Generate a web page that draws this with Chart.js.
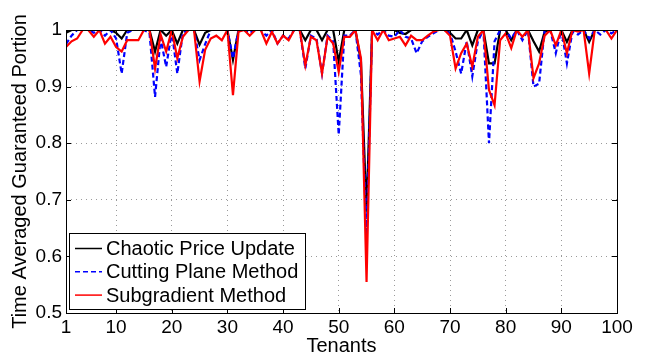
<!DOCTYPE html>
<html>
<head>
<meta charset="utf-8">
<script src="https://cdn.jsdelivr.net/npm/chart.js@4.4.0/dist/chart.umd.min.js"></script>
<style>
    html, body { margin: 0; padding: 0; background: #fff; }
    #wrap { width: 646px; height: 358px; }
</style>
</head>
<body>
<div id="wrap"><canvas id="chart" width="646" height="358"></canvas></div>
<script>
// 数据
const chaotic = [
    0.995, 1, 1, 1, 1, 1, 1, 1, 1, 0.995,
    0.985, 1, 1, 1, 1, 1, 0.962, 1, 0.99, 1,
    0.976, 1, 1, 1, 0.974, 0.995, 1, 1, 1, 1,
    0.947, 1, 1, 1, 1, 1, 1, 1, 1, 1,
    1, 1, 1, 0.982, 1, 1, 0.982, 1, 1, 0.944,
    1, 1, 1, 0.944, 0.679, 1, 1, 1, 1, 1,
    0.995, 0.993, 1, 1, 1, 1, 1, 1, 1, 0.995,
    0.985, 0.985, 1, 0.973, 1, 1, 0.941, 0.941, 1, 1,
    0.982, 1, 1, 1, 0.98, 0.962, 0.997, 1, 1, 1,
    0.979, 1, 1, 1, 0.979, 1, 1, 1, 1, 1
];
const cuttingPlane = [
    0.975, 0.99, 1, 1, 1, 0.995, 1, 0.99, 1, 0.985,
    0.923, 0.995, 1, 1, 1, 0.995, 0.882, 0.985, 0.935, 0.997,
    0.923, 0.995, 1, 1, 0.947, 0.975, 1, 1, 1, 1,
    0.95, 1, 1, 0.995, 1, 1, 0.99, 1, 0.976, 0.99,
    0.985, 1, 1, 0.932, 0.99, 0.985, 0.923, 0.99, 0.98, 0.815,
    0.99, 0.99, 1, 0.92, 0.63, 1, 0.992, 1, 0.99, 0.988,
    1, 0.988, 0.985, 0.959, 0.98, 0.988, 0.994, 1, 1, 0.994,
    0.962, 0.923, 0.98, 0.918, 0.98, 1, 0.8, 0.98, 1, 1,
    0.985, 1, 0.982, 1, 0.9, 0.905, 1, 1, 0.959, 1,
    0.941, 0.997, 0.992, 1, 0.985, 1, 0.992, 1, 0.994, 1
];
const subgradient = [
    0.97, 0.98, 0.985, 1, 1, 0.988, 1, 0.976, 0.988, 0.97,
    0.962, 0.982, 0.982, 0.982, 1, 1, 0.932, 0.992, 0.962, 1,
    0.95, 0.988, 1, 1, 0.909, 0.965, 0.985, 0.99, 0.982, 1,
    0.885, 0.997, 1, 0.99, 1, 1, 0.976, 0.997, 0.976, 0.99,
    0.982, 1, 1, 0.938, 0.988, 0.982, 0.923, 0.988, 0.976, 0.926,
    0.988, 0.988, 1, 0.95, 0.555, 1, 0.982, 1, 0.982, 0.985,
    0.988, 0.973, 0.99, 0.982, 0.982, 0.99, 0.997, 1, 1, 0.99,
    0.932, 0.959, 0.976, 0.935, 0.988, 1, 0.894, 0.867, 0.982, 0.994,
    0.968, 1, 0.988, 1, 0.915, 0.941, 0.99, 1, 0.973, 1,
    0.959, 1, 0.997, 1, 0.923, 1, 1, 1, 0.985, 1
];
const tenants = chaotic.map((v, i) => i + 1);
const xTicks = [1, 10, 20, 30, 40, 50, 60, 70, 80, 90, 100];
const yTicks = [0.5, 0.6, 0.7, 0.8, 0.9, 1];
const yTickLabels = ['0.5', '0.6', '0.7', '0.8', '0.9', '1'];
const seriesNames = ['Chaotic Price Update', 'Cutting Plane Method', 'Subgradient Method'];

const FONT = 'Helvetica, "Liberation Sans", Arial, sans-serif';

function toPoints(arr) {
    return arr.map((v, i) => ({ x: tenants[i], y: v }));
}

// 边框、内侧刻度
const framePlugin = {
    id: 'frame',
    afterDatasetsDraw(chart) {
        const { ctx, chartArea: a, scales: { x, y } } = chart;
        ctx.save();
        ctx.strokeStyle = '#000';
        ctx.lineWidth = 1;
        ctx.beginPath();
        xTicks.forEach(v => {
            const px = Math.round(x.getPixelForValue(v)) + 0.5;
            ctx.moveTo(px, a.bottom); ctx.lineTo(px, a.bottom - 5);
            ctx.moveTo(px, a.top); ctx.lineTo(px, a.top + 5);
        });
        yTicks.forEach(v => {
            const py = Math.round(y.getPixelForValue(v)) + 0.5;
            ctx.moveTo(a.left, py); ctx.lineTo(a.left + 5, py);
            ctx.moveTo(a.right, py); ctx.lineTo(a.right - 5, py);
        });
        ctx.stroke();
        ctx.strokeRect(Math.round(a.left) + 0.5, Math.round(a.top) + 0.5,
            Math.round(a.right - a.left), Math.round(a.bottom - a.top));
        ctx.restore();
    }
};

// 图例 (画在坐标区内)
const legendPlugin = {
    id: 'boxLegend',
    afterDraw(chart) {
        const { ctx } = chart;
        const bx = 69.5, by = 233.5, bw = 236, bh = 76;
        ctx.save();
        ctx.fillStyle = '#fff';
        ctx.fillRect(bx, by, bw, bh);
        ctx.strokeStyle = '#000';
        ctx.lineWidth = 1;
        ctx.strokeRect(bx, by, bw, bh);
        ctx.font = '20px ' + FONT;
        ctx.textBaseline = 'middle';
        chart.data.datasets.forEach((ds, i) => {
            const cy = 248.5 + i * 23.3;
            ctx.beginPath();
            ctx.strokeStyle = ds.borderColor;
            ctx.lineWidth = 1.5;
            ctx.setLineDash(ds.borderDash || []);
            ctx.moveTo(75, cy);
            ctx.lineTo(102, cy);
            ctx.stroke();
            ctx.setLineDash([]);
            ctx.fillStyle = '#000';
            ctx.fillText(seriesNames[i], 106, cy + 1);
        });
        ctx.restore();
    }
};

document.addEventListener('DOMContentLoaded', function() {
    const ctx = document.getElementById('chart').getContext('2d');
    new Chart(ctx, {
        type: 'line',
        data: {
            datasets: [
                {
                    label: seriesNames[0],
                    data: toPoints(chaotic),
                    borderColor: '#000000',
                    borderWidth: 2.2,
                    pointRadius: 0,
                    tension: 0,
                    order: 3
                },
                {
                    label: seriesNames[1],
                    data: toPoints(cuttingPlane),
                    borderColor: '#0000ff',
                    borderWidth: 2.2,
                    borderDash: [5, 3],
                    pointRadius: 0,
                    tension: 0,
                    order: 2
                },
                {
                    label: seriesNames[2],
                    data: toPoints(subgradient),
                    borderColor: '#ff0000',
                    borderWidth: 2.2,
                    pointRadius: 0,
                    tension: 0,
                    order: 1
                }
            ]
        },
        options: {
            responsive: false,
            animation: false,
            devicePixelRatio: 1,
            layout: { padding: { top: 30, right: 29, left: 0, bottom: 0 } },
            plugins: {
                legend: { display: false },
                tooltip: { enabled: false }
            },
            scales: {
                x: {
                    type: 'linear',
                    min: 1,
                    max: 100,
                    afterBuildTicks: s => { s.ticks = xTicks.map(v => ({ value: v })); },
                    afterFit: s => { s.height = 45; },
                    ticks: {
                        autoSkip: false,
                        maxRotation: 0,
                        padding: 3,
                        color: '#000',
                        font: { family: FONT, size: 19 },
                        callback: v => String(v)
                    },
                    grid: { color: '#9a9a9a', lineWidth: 1, drawTicks: false },
                    border: { display: false, dash: [1, 4] },
                    title: {
                        display: true,
                        text: 'Tenants',
                        color: '#000',
                        font: { family: FONT, size: 20 },
                        padding: { top: 0, bottom: 0 }
                    }
                },
                y: {
                    type: 'linear',
                    min: 0.5,
                    max: 1,
                    afterBuildTicks: s => { s.ticks = yTicks.map(v => ({ value: v })); },
                    afterFit: s => { s.width = 66; },
                    ticks: {
                        autoSkip: false,
                        padding: 4,
                        color: '#000',
                        font: { family: FONT, size: 19 },
                        callback: (v, i) => yTickLabels[i]
                    },
                    grid: { color: '#9a9a9a', lineWidth: 1, drawTicks: false },
                    border: { display: false, dash: [1, 4] },
                    title: {
                        display: true,
                        text: 'Time Averaged Guaranteed Portion',
                        color: '#000',
                        font: { family: FONT, size: 20 },
                        padding: { top: 8, bottom: 0 }
                    }
                }
            }
        },
        plugins: [framePlugin, legendPlugin]
    });
});
</script>
</body>
</html>
